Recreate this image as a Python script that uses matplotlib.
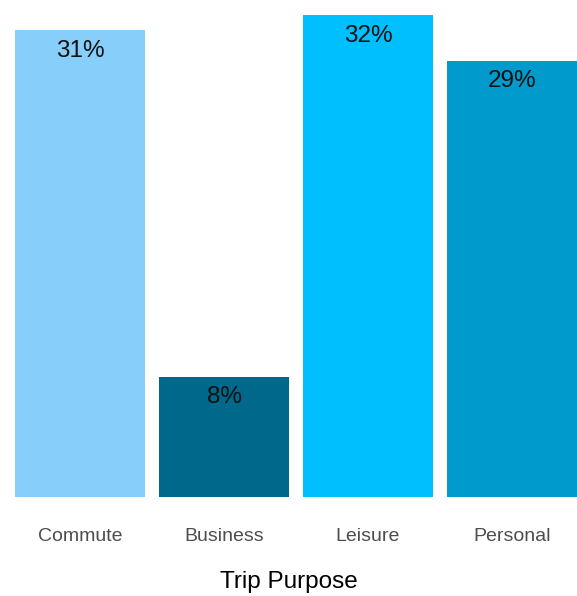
import matplotlib
matplotlib.use("Agg")
import matplotlib.pyplot as plt

purposes = ["Commute", "Business", "Leisure", "Personal"]
shares = [31, 8, 32, 29]
colors = ["#87CEFA", "#00688B", "#00BFFF", "#009ACD"]

plt.rcParams["font.family"] = ["Liberation Sans", "DejaVu Sans"]

fig = plt.figure(figsize=(5.77, 5.96), dpi=100)
ax = fig.add_axes([0, 99 / 596, 1, 497 / 596])

x = range(len(purposes))
ax.bar(x, shares, width=0.9, color=colors)

# percentage labels just inside the top of each bar
for xi, v in zip(x, shares):
    ax.annotate(f"{v}%", (xi, v), xytext=(0, -15), textcoords="offset points",
                ha="center", va="center", fontsize=17.5, color="#111111")

ax.set_xlim(-80 / 144, 497 / 144)
ax.set_ylim(0, 497 / 15.05)
ax.set_xticks(list(x))
ax.set_xticklabels(purposes, fontsize=14, color="#4D4D4D")
ax.tick_params(axis="x", length=0, pad=22)
ax.set_yticks([])
for s in ax.spines.values():
    s.set_visible(False)
ax.set_xlabel("Trip Purpose", fontsize=17.5, color="black", labelpad=19)

fig.savefig("out.png", dpi=100)
